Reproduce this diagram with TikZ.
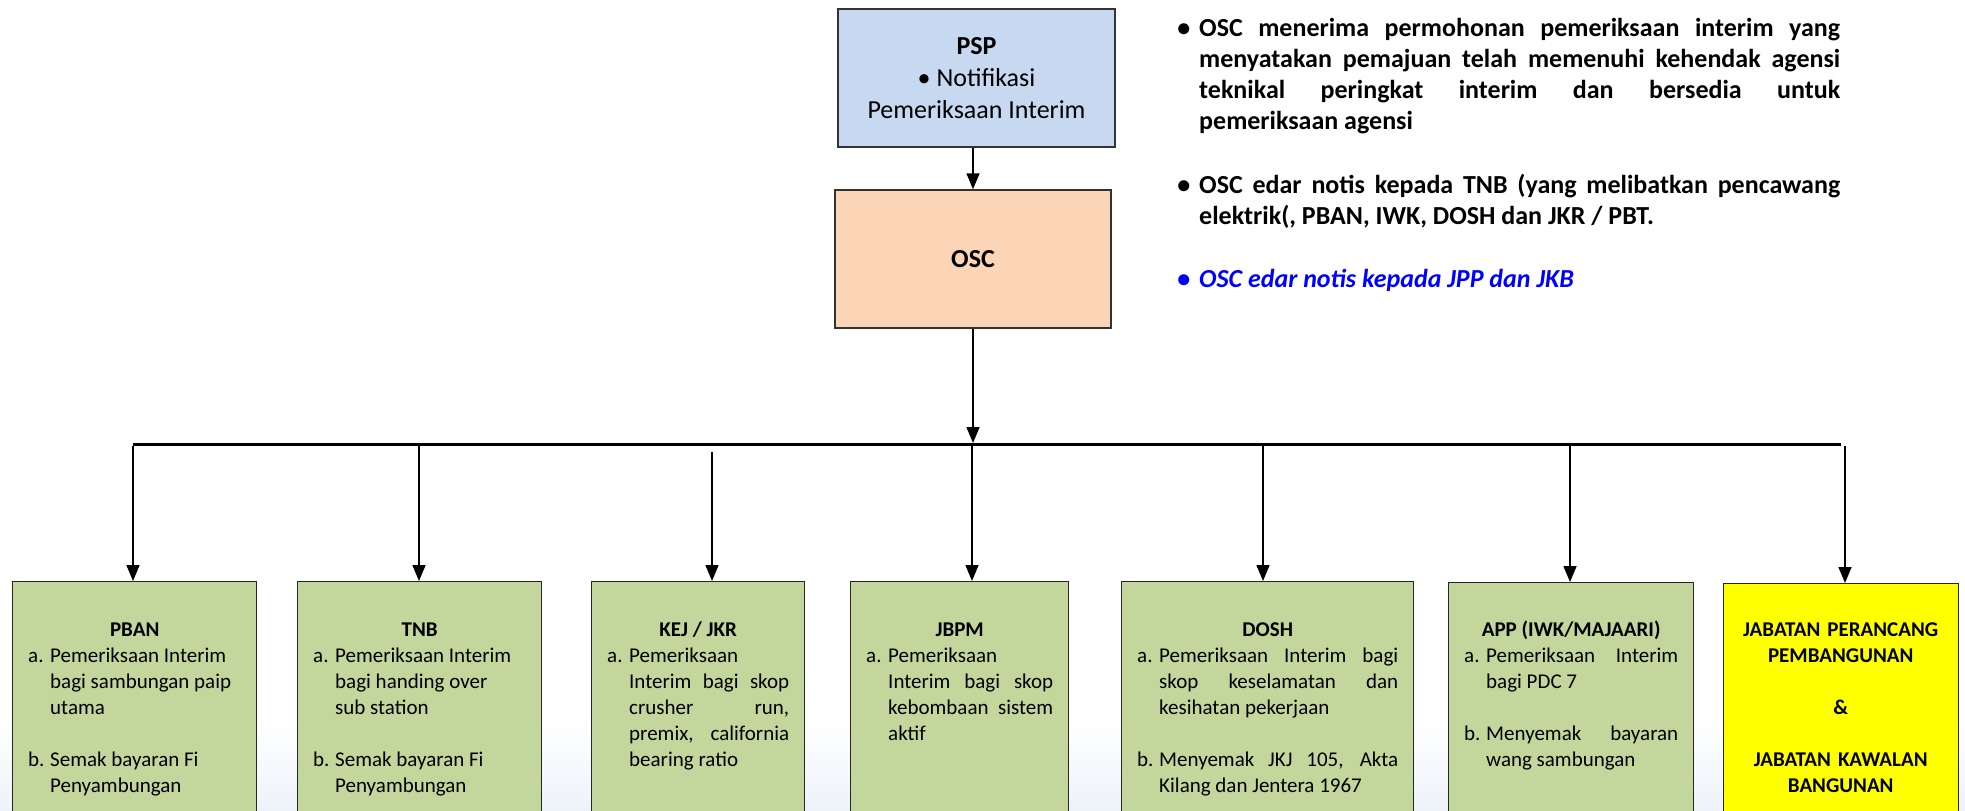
\documentclass[tikz,border=0pt]{standalone}
\usepackage{fontspec}
\setmainfont{Carlito}
\usetikzlibrary{arrows.meta}
\definecolor{pspblue}{HTML}{C6D9F1}
\definecolor{oscpeach}{HTML}{FBD5B5}
\definecolor{boxgreen}{HTML}{C3D69B}
\definecolor{boxyellow}{HTML}{FFFF00}
\definecolor{edgegray}{HTML}{333333}
\definecolor{noteblue}{HTML}{0000FF}
\definecolor{bgblue}{HTML}{EEF3FA}
\newcommand{\fl}[1]{\rule{0pt}{#1}}
\newcommand{\ttl}[1]{{\centering\textbf{#1}\par}}
\newcommand{\itm}[2]{\par\hangindent=22pt\hangafter=1\noindent\hbox to 22pt{#1\hfil}#2\par}
\newcommand{\gap}{\vskip 26pt}
\begin{document}
\begin{tikzpicture}[x=1pt,y=-1pt,
  topbox/.style={draw=edgegray, line width=1.5pt, align=center, inner sep=0pt, font=\fontsize{26}{32}\selectfont},
  gbox/.style={draw=black!85, line width=1.3pt, fill=boxgreen, anchor=north west, minimum height=260pt, inner sep=0pt},
  gtext/.style={anchor=north west, inner sep=0pt, align=justify, font=\fontsize{21}{26}\selectfont},
  note/.style={anchor=north west, inner sep=0pt, text width=641pt, align=justify, font=\fontsize{26}{31}\selectfont\bfseries},
  arr/.style={draw=black, line width=1.6pt, -{Triangle[width=13pt,length=16pt]}},
  bar/.style={draw=black, line width=3.8pt}
]
\useasboundingbox (0,0) rectangle (1965,811);
\clip (0,0) rectangle (1965,811);
\shade[top color=white, bottom color=bgblue] (0,720) rectangle (1965,811);

% top boxes
\node[topbox, fill=pspblue, minimum width=277pt, minimum height=138pt] (psp) at (976.5,78)
  {\textbf{PSP}\\• Notifikasi\\Pemeriksaan Interim};
\node[topbox, fill=oscpeach, minimum width=276pt, minimum height=138pt] (osc) at (973,259)
  {\textbf{OSC}};

% bottom boxes
\node[gbox, minimum width=244pt] (pban) at (12,581) {};
\node[gbox, minimum width=244pt] (tnb) at (297,581) {};
\node[gbox, minimum width=213pt] (kej) at (591,581) {};
\node[gbox, minimum width=218pt] (jbpm) at (850,581) {};
\node[gbox, minimum width=292pt] (dosh) at (1121,581) {};
\node[gbox, minimum width=245pt] (app) at (1448,582) {};
\node[gbox, fill=boxyellow, minimum width=235pt] (jpp) at (1723,583) {};

% box texts
\node[gtext, text width=213pt] (pbant) at (28,620.8)
  {\ttl{\fl{15pt}PBAN}\itm{a.}{Pemeriksaan Interim\hfil\break bagi sambungan paip\hfil\break utama}\gap\itm{b.}{Semak bayaran Fi\hfil\break Penyambungan}};
\node[gtext, text width=213pt] (tnbt) at (313,620.8)
  {\ttl{\fl{15pt}TNB}\itm{a.}{Pemeriksaan Interim\hfil\break bagi handing over\hfil\break sub station}\gap\itm{b.}{Semak bayaran Fi\hfil\break Penyambungan}};
\node[gtext, text width=182pt] (kejt) at (607,620.8)
  {\ttl{\fl{15pt}KEJ / JKR}\itm{a.}{Pemeriksaan\hfil\break Interim bagi skop\linebreak crusher run,\linebreak premix, california\linebreak bearing ratio}};
\node[gtext, text width=187pt] (jbpmt) at (866,620.8)
  {\ttl{\fl{15pt}JBPM}\itm{a.}{Pemeriksaan\hfil\break Interim bagi skop\linebreak kebombaan sistem\linebreak aktif}};
\node[gtext, text width=261pt] (dosht) at (1137,620.8)
  {\ttl{\fl{15pt}DOSH}\itm{a.}{Pemeriksaan Interim bagi\linebreak skop keselamatan dan\linebreak kesihatan pekerjaan}\gap\itm{b.}{Menyemak JKJ 105, Akta\linebreak Kilang dan Jentera 1967}};
\node[gtext, text width=214pt] (appt) at (1464,620.8)
  {\ttl{\fl{15pt}APP (IWK/MAJAARI)}\itm{a.}{Pemeriksaan Interim\linebreak bagi PDC 7}\gap\itm{b.}{Menyemak bayaran\linebreak wang sambungan}};
\node[gtext, text width=215pt, align=center] (jppt) at (1733,620.8)
  {\bfseries\fl{15pt}JABATAN PERANCANG\par PEMBANGUNAN\par\vskip26pt \&\par\vskip26pt JABATAN KAWALAN\par BANGUNAN\par};

% right notes
\node[note] (n1) at (1199,14.4)
  {\fl{22pt}\llap{•\hskip 9pt}OSC menerima permohonan pemeriksaan interim yang\linebreak menyatakan pemajuan telah memenuhi kehendak agensi\linebreak teknikal peringkat interim dan bersedia untuk\linebreak pemeriksaan agensi};
\node[note] (n2) at (1199,171.4)
  {\fl{22pt}\llap{•\hskip 9pt}OSC edar notis kepada TNB (yang melibatkan pencawang\linebreak elektrik(, PBAN, IWK, DOSH dan JKR / PBT.};
\node[note] (n3) at (1199,265.4)
  {\color{noteblue}\fl{22pt}\llap{•\hskip 9pt}\itshape OSC edar notis kepada JPP dan JKB};

% connectors
\draw[arr] (psp.south -| osc.north) -- (osc.north);
\coordinate (hub) at (973,443);
\coordinate (barL) at (133,444.5);
\coordinate (barR) at (1841,444.5);
\draw[arr] (osc.south) -- (hub);
\draw[bar] (barL) -- (barR);
\foreach \n/\x/\s in {pban/133/446, tnb/419/446, kej/712/452, jbpm/972/446, dosh/1263/446, app/1570/446, jpp/1845/446}{
  \coordinate (d\n) at (\x,\s);
  \draw[arr] (d\n) -- (d\n |- \n.north);
}
\end{tikzpicture}
\end{document}
